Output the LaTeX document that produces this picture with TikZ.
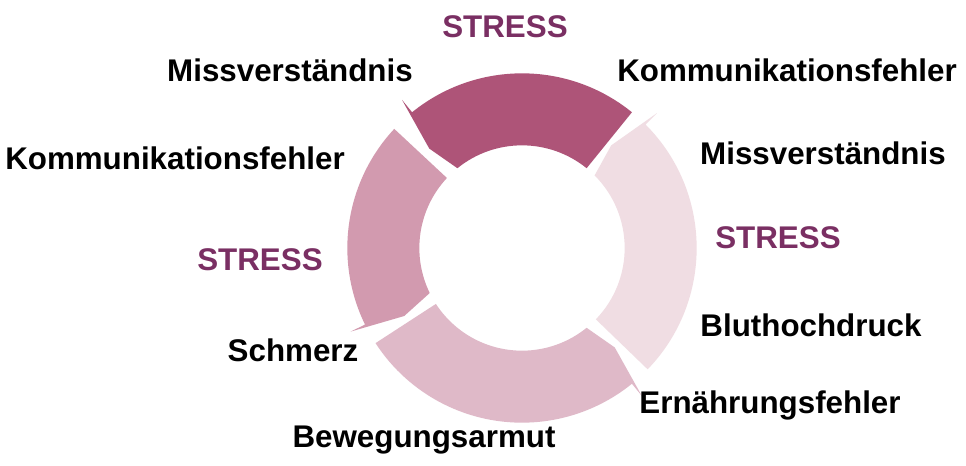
\documentclass[tikz,border=0pt]{standalone}
\usepackage{fontspec}
\setmainfont{Liberation Sans}
\begin{document}
\begin{tikzpicture}[x=0.75pt,y=-0.75pt,
  lbl/.style={font=\fontsize{23.5}{27}\selectfont\bfseries, text=black, inner sep=0pt},
  st/.style={lbl, text=stresscol},
  seg/.style={draw=none}]
\definecolor{stresscol}{HTML}{7A2F63}
\definecolor{c1}{HTML}{AE5478}
\definecolor{c2}{HTML}{D29AAF}
\definecolor{c3}{HTML}{DFB9C8}
\definecolor{c4}{HTML}{F0DDE3}
\path[use as bounding box, fill=white] (0,0) rectangle (966,465);
\coordinate (C) at (522,248);
\begin{scope}[shift={(C)}, x=1.04pt, y=1pt]
\newcommand{\ringarrow}[3]{%
  \fill[#3] (#1:131pt) arc[start angle=#1, end angle=#2, radius=131pt]
    -- (#2:143pt) -- (#2+4:102pt) -- (#2:77pt)
    arc[start angle=#2, end angle=#1, radius=77pt] -- cycle;}
\ringarrow{51}{129}{c1}
\ringarrow{137}{206}{c2}
\ringarrow{213}{309}{c3}
\ringarrow{316}{405}{c4}
\end{scope}
\node[st]  (s1) at (505,27)  {STRESS};
\node[lbl] (m1) at (290,70)  {Missverständnis};
\node[lbl] (k1) at (787,70)  {Kommunikationsfehler};
\node[lbl] (k2) at (175,158) {Kommunikationsfehler};
\node[lbl] (m2) at (823,153) {Missverständnis};
\node[st]  (s2) at (778,238) {STRESS};
\node[st]  (s3) at (260,260) {STRESS};
\node[lbl] (b1) at (811,325) {Bluthochdruck};
\node[lbl] (sc) at (293,350) {Schmerz};
\node[lbl] (e1) at (770,405) {Ernährungsfehler};
\node[lbl] (bw) at (424,440) {Bewegungsarmut};
\end{tikzpicture}
\end{document}
